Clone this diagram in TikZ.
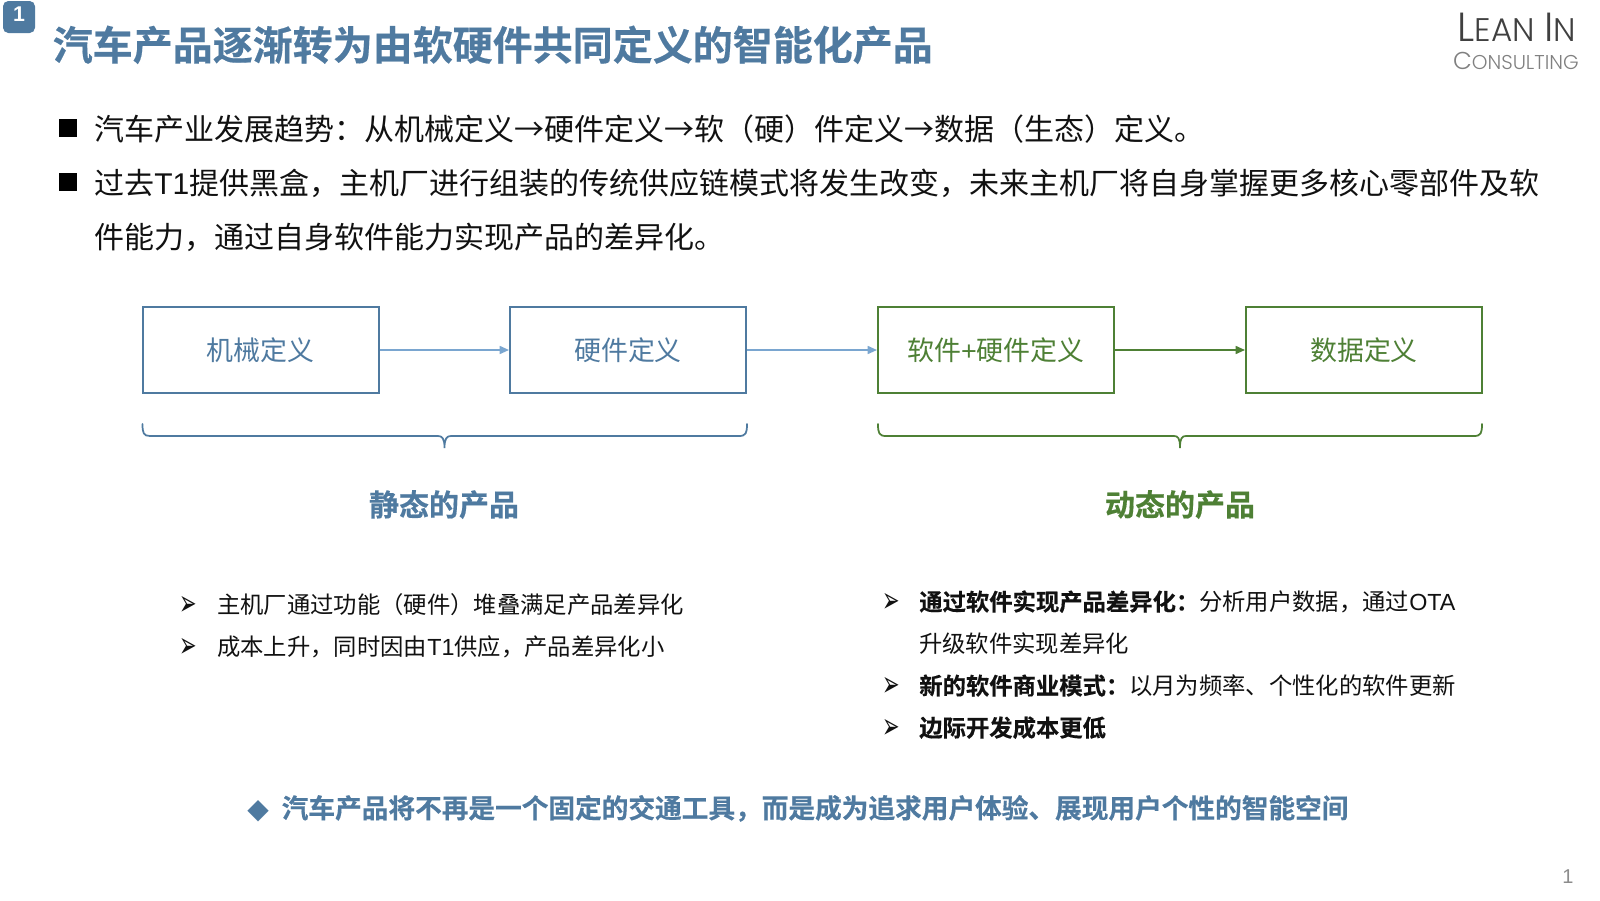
\documentclass[tikz,border=0pt]{standalone}
\usepackage{fontspec}
\usetikzlibrary{arrows.meta}
\setmainfont{Noto Sans CJK SC}[BoldFont={Noto Sans CJK SC Bold},BoldFeatures={FakeBold=0.4}]
\newfontfamily\latinf{Liberation Sans}
\newfontfamily\logof{Poppins Light}
\newfontfamily\symf{DejaVu Sans}
\newcommand{\lat}[1]{{\latinf #1}}
\newcommand{\arrowbul}{\scalebox{0.85}[1.45]{➢}}
\definecolor{bluem}{HTML}{4F7AA0}
\definecolor{bluel}{HTML}{7AA6D0}
\definecolor{greenm}{HTML}{4E8035}
\definecolor{textk}{HTML}{111111}
\tikzset{
  txt/.style={inner sep=0pt,anchor=base west,text=textk},
  boxb/.style={draw=bluem,line width=1.5pt,fill=white,minimum width=177pt,minimum height=64pt,inner sep=0pt,text=bluem,font=\fontsize{20.2}{24}\selectfont},
  boxg/.style={boxb,draw=greenm,text=greenm},
  arrb/.style={draw=bluel,line width=1.2pt,-{Triangle[length=7pt,width=6pt]}},
  arrg/.style={arrb,draw=greenm},
  brb/.style={draw=bluem,line width=1.3pt,line cap=round},
  brg/.style={brb,draw=greenm},
  sq/.style={fill=black,minimum width=13pt,minimum height=13pt,inner sep=0pt},
  body/.style={txt,font=\fontsize{22.5}{27}\selectfont},
  small/.style={txt,font=\fontsize{17.5}{21}\selectfont},
  arrowb/.style={txt,font=\symf\fontsize{18.5}{20}\selectfont},
}
\begin{document}
\begin{tikzpicture}[x=0.75pt,y=-0.75pt]
\useasboundingbox (0,0) rectangle (1600,900);
\fill[white] (0,0) rectangle (1600,900);
% badge
\node[fill=bluem,rounded corners=4pt,minimum width=24pt,minimum height=24pt,inner sep=0pt,text=white,font=\bfseries\latinf\fontsize{16}{18}\selectfont] (badge) at (19,17) {\raisebox{4pt}{1}};
\node[txt,text=bluem,font=\bfseries\fontsize{30}{36}\selectfont] (title) at (52.5,60) {汽车产品逐渐转为由软硬件共同定义的智能化产品};
% logo
\node[inner sep=0pt,anchor=base east,text=black!75,font=\logof\fontsize{30.5}{34}\selectfont] (logo1) at (1576,41) {L\fontsize{24.5}{34}\selectfont EAN \fontsize{30.5}{34}\selectfont I\fontsize{24.5}{34}\selectfont N};
\node[inner sep=0pt,anchor=base east,text=black!50,font=\logof\fontsize{18.3}{20}\selectfont] (logo2) at (1579,69) {C\fontsize{15}{20}\selectfont ONSULTING};
% bullets top
\node[sq] (s1) at (68,128) {};
\node[sq] (s2) at (68,182) {};
\node[body] (t1) at (94,140) {汽车产业发展趋势：从机械定义→硬件定义→软（硬）件定义→数据（生态）定义。};
\node[body] (t2) at (94,194) {过去\lat{T1}提供黑盒，主机厂进行组装的传统供应链模式将发生改变，未来主机厂将自身掌握更多核心零部件及软};
\node[body] (t3) at (94,248) {件能力，通过自身软件能力实现产品的差异化。};
% boxes
\node[boxb] (b1) at (260.5,350) {机械定义};
\node[boxb] (b2) at (628,350) {硬件定义};
\node[boxg] (b3) at (996,350) {软件\lat{+}硬件定义};
\node[boxg] (b4) at (1364,350) {数据定义};
\draw[arrb] (b1) -- (b2);
\draw[arrb] (b2) -- (b3);
\draw[arrg] (b3) -- (b4);
% braces
\draw[brb] (142.5,424) .. controls (142.5,433) and (143.5,436) .. (150,436) -- (438,436) .. controls (442,436) and (444.5,438) .. (444.5,448) .. controls (444.5,438) and (447,436) .. (451,436) -- (739,436) .. controls (746,436) and (747,433) .. (747,424);
\draw[brg] (878,424) .. controls (878,433) and (879,436) .. (886,436) -- (1174,436) .. controls (1178,436) and (1180,438) .. (1180,448) .. controls (1180,438) and (1182,436) .. (1186,436) -- (1474,436) .. controls (1481,436) and (1482,433) .. (1482,424);
% headings
\node[inner sep=0pt,text=bluem,font=\bfseries\fontsize{22.5}{27}\selectfont] (h1) at (444,504.5) {静态的产品};
\node[inner sep=0pt,text=greenm,font=\bfseries\fontsize{22.5}{27}\selectfont] (h2) at (1180,504.5) {动态的产品};
% lower left
\node[arrowb] (a1) at (179,615) {\arrowbul};
\node[arrowb] (a2) at (179,657) {\arrowbul};
\node[small] (l1) at (217,613) {主机厂通过功能（硬件）堆叠满足产品差异化};
\node[small] (l2) at (217,655) {成本上升，同时因由\lat{T1}供应，产品差异化小};
% lower right
\node[arrowb] (a3) at (882,612) {\arrowbul};
\node[arrowb] (a4) at (882,696) {\arrowbul};
\node[arrowb] (a5) at (882,738) {\arrowbul};
\node[small] (r1) at (919,610.5) {\textbf{通过软件实现产品差异化：}分析用户数据，通过\lat{OTA}};
\node[small] (r2) at (919,652.5) {升级软件实现差异化};
\node[small] (r3) at (919,694.5) {\textbf{新的软件商业模式：}以月为频率、个性化的软件更新};
\node[small] (r4) at (919,736.5) {\textbf{边际开发成本更低}};
% bottom
\node[txt,text=bluem,font=\symf\fontsize{21}{24}\selectfont] (dia) at (247,818) {◆};
\node[txt,text=bluem,font=\bfseries\fontsize{20}{24}\selectfont] (bot) at (281.5,818) {汽车产品将不再是一个固定的交通工具，而是成为追求用户体验、展现用户个性的智能空间};
% page
\node[inner sep=0pt,anchor=base,text=black!45,font=\latinf\fontsize{15}{18}\selectfont] (pg) at (1568,883) {1};
\end{tikzpicture}
\end{document}
